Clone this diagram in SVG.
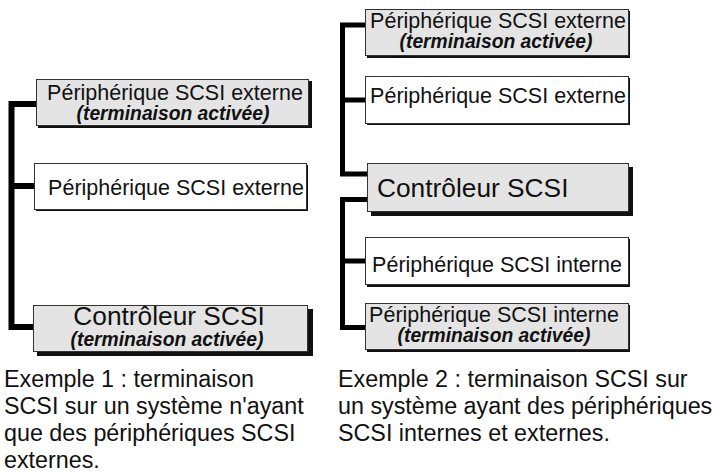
<svg xmlns="http://www.w3.org/2000/svg" width="716" height="472" viewBox="0 0 716 472">
<style>
.bg{fill:#fff}
.sh{fill:#111}
.term{fill:#e4e4e4;stroke:#333;stroke-width:1}
.plain{fill:#fff;stroke:#333;stroke-width:1}
.bus{fill:none;stroke:#000;stroke-width:6;stroke-linejoin:miter;stroke-linecap:butt}
.bus2{fill:none;stroke:#000;stroke-width:5;stroke-linejoin:miter;stroke-linecap:butt}
text{font-family:"Liberation Sans",Arial,sans-serif;fill:#111}
.t{font-size:21.5px}
.b{font-size:19.3px;font-weight:bold;font-style:italic}
.c{font-size:26.3px}
.cap{font-size:23.3px}
</style>
<rect class="bg" x="0" y="0" width="716" height="472"/>
<g id="connectors">
<path class="bus" d="M38,104 H11.5 V327 H33"/>
<path class="bus" d="M11.5,186 H34"/>
<path class="bus2" d="M365,25 H342.5 V174 H367"/>
<path class="bus2" d="M342.5,100 H365"/>
<path class="bus2" d="M367,199.5 H342.5 V327.5 H365"/>
<path class="bus2" d="M342.5,261 H365"/>
</g>
<g id="l-ext-term">
<rect class="sh" x="38" y="81" width="274" height="47"/>
<rect class="term" x="36.5" y="79.5" width="272" height="46"/>
<text class="t" x="175" y="100" text-anchor="middle">Périphérique SCSI externe</text>
<text class="b" x="173" y="120" text-anchor="middle">(terminaison activée)</text>
</g>
<g id="l-ext">
<rect class="sh" x="36" y="165" width="272" height="46"/>
<rect class="plain" x="34.5" y="163.5" width="272" height="46"/>
<text class="t" x="176" y="195" text-anchor="middle">Périphérique SCSI externe</text>
</g>
<g id="l-ctrl">
<rect class="sh" x="37" y="309" width="276" height="47"/>
<rect class="term" x="33.5" y="305.5" width="274" height="46"/>
<text class="c" x="169" y="325" text-anchor="middle">Contrôleur SCSI</text>
<text class="b" x="167" y="346" text-anchor="middle">(terminaison activée)</text>
</g>
<g id="r-ext-term">
<rect class="sh" x="367" y="11" width="263" height="47"/>
<rect class="term" x="365.5" y="9.5" width="263" height="46"/>
<text class="t" x="498" y="28" text-anchor="middle">Périphérique SCSI externe</text>
<text class="b" x="496" y="48" text-anchor="middle">(terminaison activée)</text>
</g>
<g id="r-ext">
<rect class="sh" x="367" y="78" width="263" height="47"/>
<rect class="plain" x="365.5" y="76.5" width="263" height="47"/>
<text class="t" x="498" y="103" text-anchor="middle">Périphérique SCSI externe</text>
</g>
<g id="r-ctrl">
<rect class="sh" x="371" y="167" width="262" height="49"/>
<rect class="term" x="367.5" y="163.5" width="261" height="48"/>
<text class="c" x="377" y="197">Contrôleur SCSI</text>
</g>
<g id="r-int">
<rect class="sh" x="367" y="239" width="263" height="48"/>
<rect class="plain" x="365.5" y="237.5" width="263" height="47"/>
<text class="t" x="497" y="272" text-anchor="middle">Périphérique SCSI interne</text>
</g>
<g id="r-int-term">
<rect class="sh" x="367" y="305" width="263" height="47"/>
<rect class="term" x="365.5" y="303.5" width="263" height="46"/>
<text class="t" x="494" y="322" text-anchor="middle">Périphérique SCSI interne</text>
<text class="b" x="494" y="342" text-anchor="middle">(terminaison activée)</text>
</g>
<g id="captions">
<text class="cap" x="4" y="387">Exemple 1 : terminaison</text>
<text class="cap" x="4" y="414">SCSI sur un système n'ayant</text>
<text class="cap" x="4" y="441">que des périphériques SCSI</text>
<text class="cap" x="4" y="468">externes.</text>
<text class="cap" x="338" y="387">Exemple 2 : terminaison SCSI sur</text>
<text class="cap" x="338" y="414">un système ayant des périphériques</text>
<text class="cap" x="338" y="441">SCSI internes et externes.</text>
</g>
</svg>
